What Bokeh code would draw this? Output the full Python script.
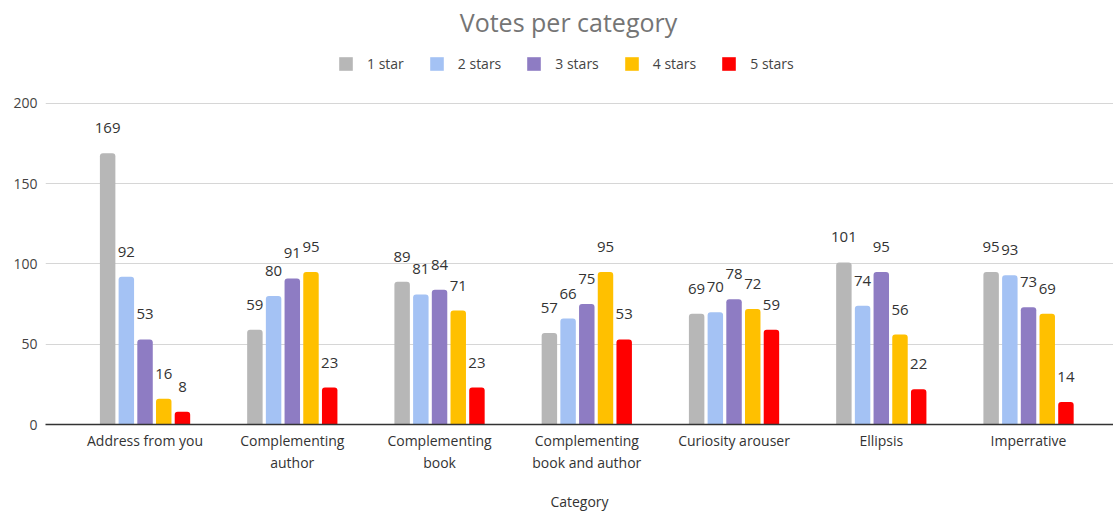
from bokeh.plotting import figure
from bokeh.models import ColumnDataSource, Range1d, LabelSet, Label, Legend, LegendItem, FixedTicker
from bokeh.core.properties import value
from bokeh.embed import file_html
from bokeh.resources import INLINE

categories = ["Address from you", "Complementing author", "Complementing book",
              "Complementing book and author", "Curiosity arouser", "Ellipsis", "Imperrative"]
tick_labels = ["Address from you", "Complementing\nauthor", "Complementing\nbook",
               "Complementing\nbook and author", "Curiosity arouser", "Ellipsis", "Imperrative"]
series = ["1 star", "2 stars", "3 stars", "4 stars", "5 stars"]
star1 = [169, 59, 89, 57, 69, 101, 95]
star2 = [92, 80, 81, 66, 70, 74, 93]
star3 = [53, 91, 84, 75, 78, 95, 73]
star4 = [16, 95, 71, 95, 72, 56, 69]
star5 = [8, 23, 23, 53, 59, 22, 14]
colors = ["#b7b7b7", "#a4c2f4", "#8e7cc3", "#ffc000", "#ff0000"]
y_ticks = [0, 50, 100, 150, 200]
title_text = "Votes per category"

all_values = [star1, star2, star3, star4, star5]

FONT = "Open Sans"

p = figure(width=1113, height=514, output_backend="svg", toolbar_location=None,
           x_range=Range1d(-0.676, 6.577), y_range=Range1d(0, 264.17),
           min_border_left=45, min_border_right=0, min_border_top=0, min_border_bottom=90)
p.outline_line_color = None

title = Label(x=523, y=403, x_units="screen", y_units="screen", text=title_text,
              text_align="center", text_baseline="alphabetic",
              text_font=FONT, text_font_size="25px", text_color="#757575")
p.add_layout(title)

step = 0.127
bw = 0.105
items = []
for k, (name, vals, col) in enumerate(zip(series, all_values, colors)):
    xs = [i + (k - 2) * step for i in range(len(categories))]
    src = ColumnDataSource(dict(x=xs, top=vals, text=[str(v) for v in vals]))
    r = p.vbar(x="x", top="top", bottom=0, width=bw, source=src, fill_color=col,
               line_color=None, border_radius=(3, 3, 0, 0))
    items.append(LegendItem(label=name, renderers=[r]))
    labels = LabelSet(x="x", y="top", text="text", source=src, y_offset=20,
                      text_align="center", text_baseline="alphabetic",
                      text_font=value(FONT), text_font_size=value("15px"),
                      text_color="#333333")
    p.add_layout(labels)

legend = Legend(items=items, orientation="horizontal", location=(292, 351),
                glyph_width=17, glyph_height=17, label_standoff=13, spacing=24,
                label_text_font=FONT, label_text_font_size="14px", label_text_color="#444444",
                border_line_color=None, background_fill_alpha=0, padding=4, margin=0)
p.add_layout(legend, "center")

# y axis
p.yaxis.ticker = FixedTicker(ticks=y_ticks)
p.yaxis.axis_line_color = None
p.yaxis.major_tick_line_color = None
p.yaxis.minor_tick_line_color = None
p.yaxis.major_label_standoff = 2
p.yaxis.major_label_text_font = FONT
p.yaxis.major_label_text_font_size = "14px"
p.yaxis.major_label_text_color = "#444444"

# x axis
p.xaxis.ticker = FixedTicker(ticks=list(range(len(categories))))
p.xaxis.major_label_overrides = {i: t for i, t in enumerate(tick_labels)}
p.xaxis.axis_line_color = "#333333"
p.xaxis.axis_line_width = 1.5
p.xaxis.major_tick_line_color = None
p.xaxis.minor_tick_line_color = None
p.xaxis.major_label_standoff = 0
p.xaxis.major_label_text_font = FONT
p.xaxis.major_label_text_font_size = "14px"
p.xaxis.major_label_text_color = "#333333"
p.xaxis.axis_label = "Category"
p.xaxis.axis_label_standoff = 17
p.xaxis.axis_label_text_font = FONT
p.xaxis.axis_label_text_font_size = "14px"
p.xaxis.axis_label_text_font_style = "normal"
p.xaxis.axis_label_text_color = "#333333"

p.xgrid.grid_line_color = None
p.ygrid.grid_line_color = "#d6d6d6"
p.ygrid.grid_line_width = 1

open("out.html", "w").write(file_html(p, INLINE))
